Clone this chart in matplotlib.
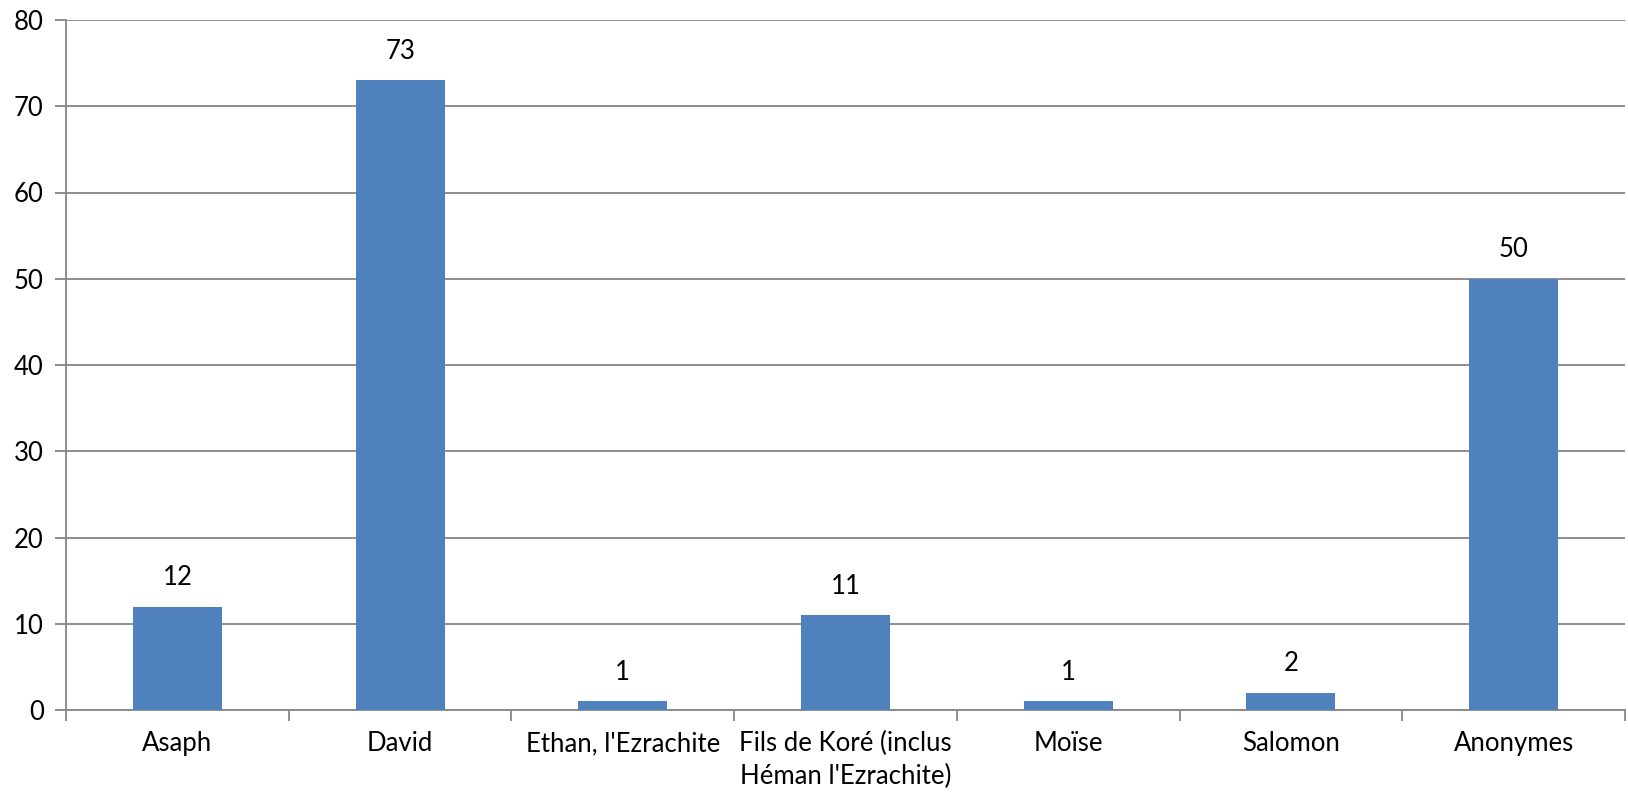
import numpy as np
import matplotlib.pyplot as plt
from matplotlib.ticker import FixedLocator

categories = ["Asaph", "David", "Ethan, l'Ezrachite",
              "Fils de Koré (inclus\nHéman l'Ezrachite)",
              "Moïse", "Salomon", "Anonymes"]
counts = [12, 73, 1, 11, 1, 2, 50]
yticks = [0, 10, 20, 30, 40, 50, 60, 70, 80]

plt.rcParams['font.family'] = ['Lato', 'DejaVu Sans']
grid_col = "#868686"
fs = 18.5

fig = plt.figure(figsize=(16.28, 7.93), dpi=100)
ax = fig.add_axes([66 / 1628, 1 - 710 / 793, (1625 - 66) / 1628, (710 - 20) / 793])

x = np.arange(len(categories))
bars = ax.bar(x, counts, width=0.4, color="#4F81BD", zorder=3)
for xi, v in zip(x, counts):
    ax.text(xi, v + 1.9, str(v), ha="center", va="bottom", fontsize=fs, color="black")

ax.set_xlim(-0.5, len(categories) - 0.5)
ax.set_ylim(0, 80)
ax.set_yticks(yticks)
ax.yaxis.grid(True, color=grid_col, linewidth=1.3, zorder=0)
ax.set_xticks(x)
ax.set_xticklabels(categories, fontsize=fs, linespacing=1.4)
ax.xaxis.set_minor_locator(FixedLocator(np.arange(-0.5, len(categories), 1.0)))
ax.tick_params(axis="x", which="major", length=0, pad=15)
ax.tick_params(axis="x", which="minor", length=8, color=grid_col, width=1.3)
ax.tick_params(axis="y", length=8, color=grid_col, width=1.3, labelsize=fs, pad=8)

for side in ["top", "right"]:
    ax.spines[side].set_visible(False)
for side in ["left", "bottom"]:
    ax.spines[side].set_color(grid_col)
    ax.spines[side].set_linewidth(1.3)

fig.savefig("out.png", dpi=100)
